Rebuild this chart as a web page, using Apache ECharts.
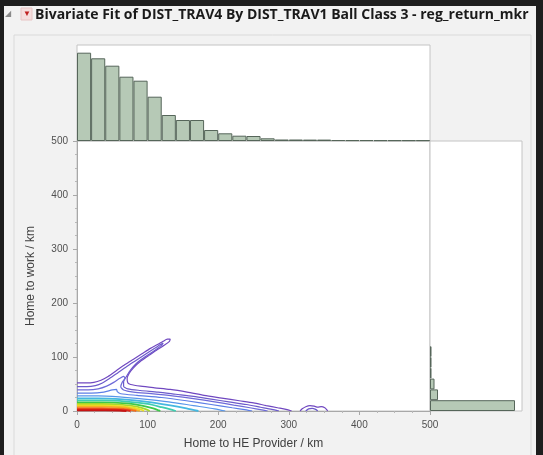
<!DOCTYPE html>
<html>
<head>
<meta charset="utf-8">
<script src="https://cdn.jsdelivr.net/npm/echarts@6/dist/echarts.min.js"></script>
<style>
html,body{margin:0;padding:0;width:543px;height:455px;background:#1e1e1e;overflow:hidden;}
#panel{position:absolute;left:4px;top:6px;width:532px;height:449px;background:#f2f2f2;}
#chart{position:absolute;left:0;top:0;width:543px;height:455px;}
</style>
</head>
<body>
<div id="panel"></div>
<div id="chart"></div>
<script>
// ---- data ----
const titleText = 'Bivariate Fit of DIST_TRAV4 By DIST_TRAV1 Ball Class 3 - reg_return_mkr';
const xTitle = 'Home to HE Provider / km';
const yTitle = 'Home to work / km';
const axisTicks = [0, 100, 200, 300, 400, 500];

// marginal histogram of Home to HE Provider (bins of 20 km, 0..500)
const xBins = ['0','20','40','60','80','100','120','140','160','180','200','220','240','260','280','300','320','340','360','380','400','420','440','460','480'];
const xCounts = [883, 827, 753, 643, 603, 443, 260, 210, 210, 110, 77, 53, 50, 27, 15, 15, 14, 14, 10, 9, 9, 8, 8, 8, 8];
// marginal histogram of Home to work (bins of 20 km, 0..500)
const yBins = ['0','20','40','60','80','100','120','140','160','180','200','220','240','260','280','300','320','340','360','380','400','420','440','460','480'];
const yCounts = [850, 80, 45, 15, 15, 15, 0, 0, 0, 0, 0, 0, 0, 0, 0, 0, 0, 0, 0, 0, 0, 0, 0, 0, 0];

// nonparametric density contours, [x km, y km], outer (low density) to inner (high)
const c1 = [[0,52],[12,52],[24,53],[34,57],[44,64],[56,75],[68,86],[80,96],[92,106],[104,116],[114,123],[122,129],[128,133],[132,133],[131,129],[124,122],[114,114],[102,103],[90,92],[80,80],[74,70],[71,60],[72,52],[76,49],[90,46],[110,43],[132,40],[156,35],[180,29],[205,24],[230,19],[250,15],[268,10],[284,6],[296,3],[304,0]];
const c2 = [[0,45],[14,45],[26,47],[36,52],[46,60],[58,71],[70,82],[84,94],[98,106],[110,116],[118,123],[122,126],[120,122],[110,112],[96,100],[84,88],[76,76],[70,64],[66,54],[66,46],[72,41],[90,38],[115,35],[140,31],[165,27],[190,22],[215,17],[240,12],[260,7],[276,3],[286,0]];
const c3 = [[0,39],[16,39],[30,41],[42,46],[52,53],[60,60],[66,64],[68,61],[64,53],[62,45],[66,39],[80,35],[105,32],[135,28],[165,23],[195,17],[222,11],[245,6],[262,2],[270,0]];
const c4 = [[0,33],[20,33],[38,35],[50,39],[56,40],[57,36],[62,32],[85,29],[120,25],[155,19],[190,12],[220,6],[240,2],[248,0]];
const c5 = [[0,28],[30,28],[60,26],[95,22],[130,17],[165,10],[195,4],[210,0]];
const c6 = [[0,23.5],[30,23.5],[65,21.5],[100,17],[130,11],[155,5],[172,0]];
const c7 = [[0,19.5],[35,19.5],[70,17.5],[100,13],[120,7],[135,2],[140,0]];
const c8 = [[0,16],[35,16],[70,14],[92,10],[108,5],[116,1],[118,0]];
const c9 = [[0,13],[35,13],[65,11.5],[85,8],[98,3],[103,0]];
const c10 = [[0,10.5],[35,10.5],[62,9],[80,6],[92,2],[95,0]];
const c11 = [[0,8],[35,8],[60,7],[76,4.5],[86,1],[89,0]];
const c12 = [[0,5.5],[35,5.5],[58,4.5],[72,3],[82,0.5],[84,0]];
const c13 = [[0,3],[35,3],[55,2.5],[68,1.5],[76,0]];
const c14 = [[0,1.2],[40,1.2],[60,0.8],[70,0]];
const b1 = [[316,0],[319,4],[324,8],[330,10],[336,9],[341,7],[346,8],[351,6],[354,2],[355,0]];
const b2 = [[324,0],[328,4],[333,5],[338,3],[341,0]];
const contours = [c1, c2, c3, c4, c5, c6, c7, c8, c9, c10, c11, c12, c13, c14, b1, b2];
const contourColors = ['#7048c0','#6c5acb','#6e6ad8','#5d7ee6','#5897ea','#45b8e0','#3fcdb0','#3ec84a','#a6d82c','#ece024','#f6b022','#f36d1c','#e02a1a','#c81414','#7048c0','#6c5acb'];

// ---- chart ----
const chart = echarts.init(document.getElementById('chart'), null, {renderer: 'canvas'});
const fontFam = 'Liberation Sans, Arial, sans-serif';
const barFill = '#b6c9b6';
const barEdge = '#56665a';
const frame = '#c4c4c4';

const series = [];
contours.forEach((c, i) => {
  series.push({
    type: 'line', xAxisIndex: 0, yAxisIndex: 0, data: c,
    showSymbol: false, symbol: 'none', smooth: 0.25, clip: true,
    lineStyle: {color: contourColors[i], width: i >= 5 && i <= 13 ? 1.8 : 1.2},
    silent: true, z: 3 + i * 0.01
  });
});
series.push({
  type: 'bar', xAxisIndex: 1, yAxisIndex: 1, data: xCounts,
  barWidth: '100%', itemStyle: {color: barFill, borderColor: barEdge, borderWidth: 1}, silent: true
});
series.push({
  type: 'bar', xAxisIndex: 2, yAxisIndex: 2, data: yCounts.map(v => v === 0 ? '-' : v),
  barWidth: '100%', itemStyle: {color: barFill, borderColor: barEdge, borderWidth: 1}, silent: true
});

const option = {
  backgroundColor: 'transparent',
  animation: false,
  textStyle: {fontFamily: fontFam},
  graphic: [
    {type: 'rect', shape: {x: 14, y: 35, width: 517, height: 430}, style: {fill: 'none', stroke: '#dadada', lineWidth: 1}, silent: true},
    {type: 'text', x: 5, y: 14, style: {text: '◢', fill: '#8a8a8a', font: '8px ' + fontFam, verticalAlign: 'middle'}},
    {type: 'rect', shape: {x: 21, y: 8, width: 11, height: 12}, style: {fill: '#f5dede', stroke: '#e7c4c4'}},
    {type: 'text', x: 23, y: 14, style: {text: '▼', fill: '#c02020', font: '8px ' + fontFam, verticalAlign: 'middle'}},
    {type: 'text', x: 35, y: 15, style: {text: titleText, fill: '#1a1a1a', font: 'bold 14px "Open Sans", sans-serif', verticalAlign: 'middle'}}
  ],
  grid: [
    {left: 77, top: 141, width: 353, height: 270, show: true, backgroundColor: '#ffffff', borderColor: frame, borderWidth: 1},
    {left: 77, top: 45, width: 353, height: 96, show: true, backgroundColor: '#ffffff', borderColor: frame, borderWidth: 1},
    {left: 430, top: 141, width: 92, height: 270, show: true, backgroundColor: '#ffffff', borderColor: frame, borderWidth: 1}
  ],
  xAxis: [
    {gridIndex: 0, type: 'value', min: 0, max: 500, interval: 100,
     name: xTitle, nameLocation: 'middle', nameGap: 27,
     nameTextStyle: {color: '#404040', fontSize: 12, fontFamily: fontFam},
     axisLine: {show: true, lineStyle: {color: '#a8a8a8'}},
     axisTick: {show: true, length: 4, lineStyle: {color: '#a8a8a8'}},
     minorTick: {show: true, splitNumber: 4, length: 2, lineStyle: {color: '#b8b8b8'}},
     axisLabel: {color: '#505050', fontSize: 10, margin: 9, formatter: v => axisTicks.includes(v) ? String(v) : ''},
     splitLine: {show: false}},
    {gridIndex: 1, type: 'category', data: xBins, show: false},
    {gridIndex: 2, type: 'value', min: 0, max: 920, show: false}
  ],
  yAxis: [
    {gridIndex: 0, type: 'value', min: 0, max: 500, interval: 100,
     name: yTitle, nameLocation: 'middle', nameGap: 40, nameRotate: 90,
     nameTextStyle: {color: '#404040', fontSize: 12, fontFamily: fontFam},
     axisLine: {show: true, lineStyle: {color: '#a8a8a8'}},
     axisTick: {show: true, length: 4, lineStyle: {color: '#a8a8a8'}},
     minorTick: {show: true, splitNumber: 4, length: 2, lineStyle: {color: '#b8b8b8'}},
     axisLabel: {color: '#505050', fontSize: 10, margin: 9, formatter: v => axisTicks.includes(v) ? String(v) : ''},
     splitLine: {show: false}},
    {gridIndex: 1, type: 'value', min: 0, max: 960, show: false},
    {gridIndex: 2, type: 'category', data: yBins, show: false}
  ],
  series: series
};
chart.setOption(option);
</script>
</body>
</html>
